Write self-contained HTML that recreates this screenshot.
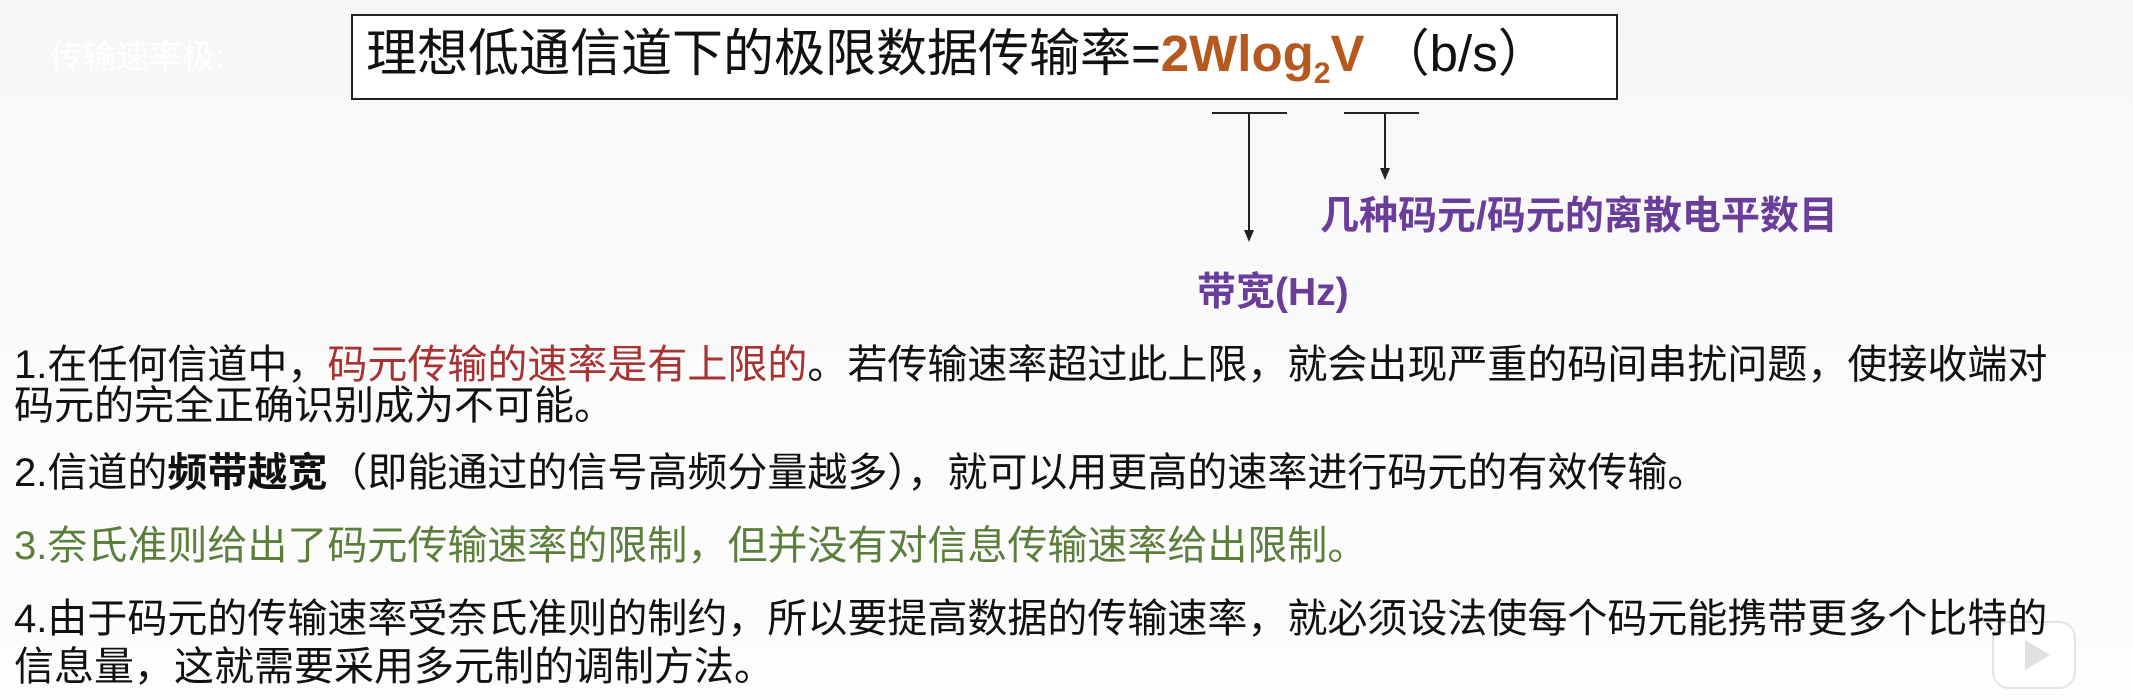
<!DOCTYPE html>
<html><head><meta charset="utf-8"><style>
html,body{margin:0;padding:0;}
body{width:2133px;height:700px;position:relative;overflow:hidden;background:linear-gradient(#f6f6f6,#fafafa 40%,#fdfdfd);font-family:"Liberation Sans","Noto Sans CJK SC",sans-serif;color:#111;}
.a{position:absolute;white-space:nowrap;line-height:1;}
.t{font-size:40px;}
</style></head><body>
<div class="a" style="left:50px;top:40px;font-size:33px;color:#fff;">传输速率极:</div>
<div class="a" style="left:351px;top:14px;width:1263px;height:82px;border:2px solid #222;background:#fff;"></div>
<div class="a" style="left:366px;top:28px;font-size:51px;color:#111;">理想低通信道下的极限数据传输率=<b style="color:#b5591f;">2Wlog<sub style="font-size:30px;vertical-align:-12px;">2</sub>V</b> （b/s）</div>
<svg class="a" style="left:0;top:0" width="2133" height="700">
<g stroke="#222" stroke-width="2" fill="none">
<line x1="1212" y1="113" x2="1287" y2="113"/><line x1="1249" y1="113" x2="1249" y2="232"/>
<line x1="1344" y1="113" x2="1419" y2="113"/><line x1="1385" y1="113" x2="1385" y2="170"/>
</g>
<polygon points="1244,230 1254,230 1249,242" fill="#222"/>
<polygon points="1380,168 1390,168 1385,180" fill="#222"/>
<rect x="1993" y="622" width="82" height="66" rx="16" fill="#fff" stroke="#e4e4e4" stroke-width="2"/>
<polygon points="2025,640 2025,670 2050,655" fill="#e0e0e0"/>
</svg>
<div class="a" style="left:1320px;top:197px;font-size:39px;color:#6a3d9a;font-weight:bold;">几种码元/码元的离散电平数目</div>
<div class="a" style="left:1197px;top:273px;font-size:39px;color:#6a3d9a;font-weight:bold;">带宽(Hz)</div>
<div class="a t" style="left:14px;top:345px;">1.在任何信道中，<span style="color:#a83232;">码元传输的速率是有上限的</span>。若传输速率超过此上限，就会出现严重的码间串扰问题，使接收端对</div>
<div class="a t" style="left:14px;top:386px;">码元的完全正确识别成为不可能。</div>
<div class="a t" style="left:14px;top:453px;">2.信道的<b>频带越宽</b>（即能通过的信号高频分量越多），就可以用更高的速率进行码元的有效传输。</div>
<div class="a t" style="left:14px;top:526px;color:#5b7f3a;">3.奈氏准则给出了码元传输速率的限制，但并没有对信息传输速率给出限制。</div>
<div class="a t" style="left:14px;top:599px;">4.由于码元的传输速率受奈氏准则的制约，所以要提高数据的传输速率，就必须设法使每个码元能携带更多个比特的</div>
<div class="a t" style="left:14px;top:647px;">信息量，这就需要采用多元制的调制方法。</div>
</body></html>
